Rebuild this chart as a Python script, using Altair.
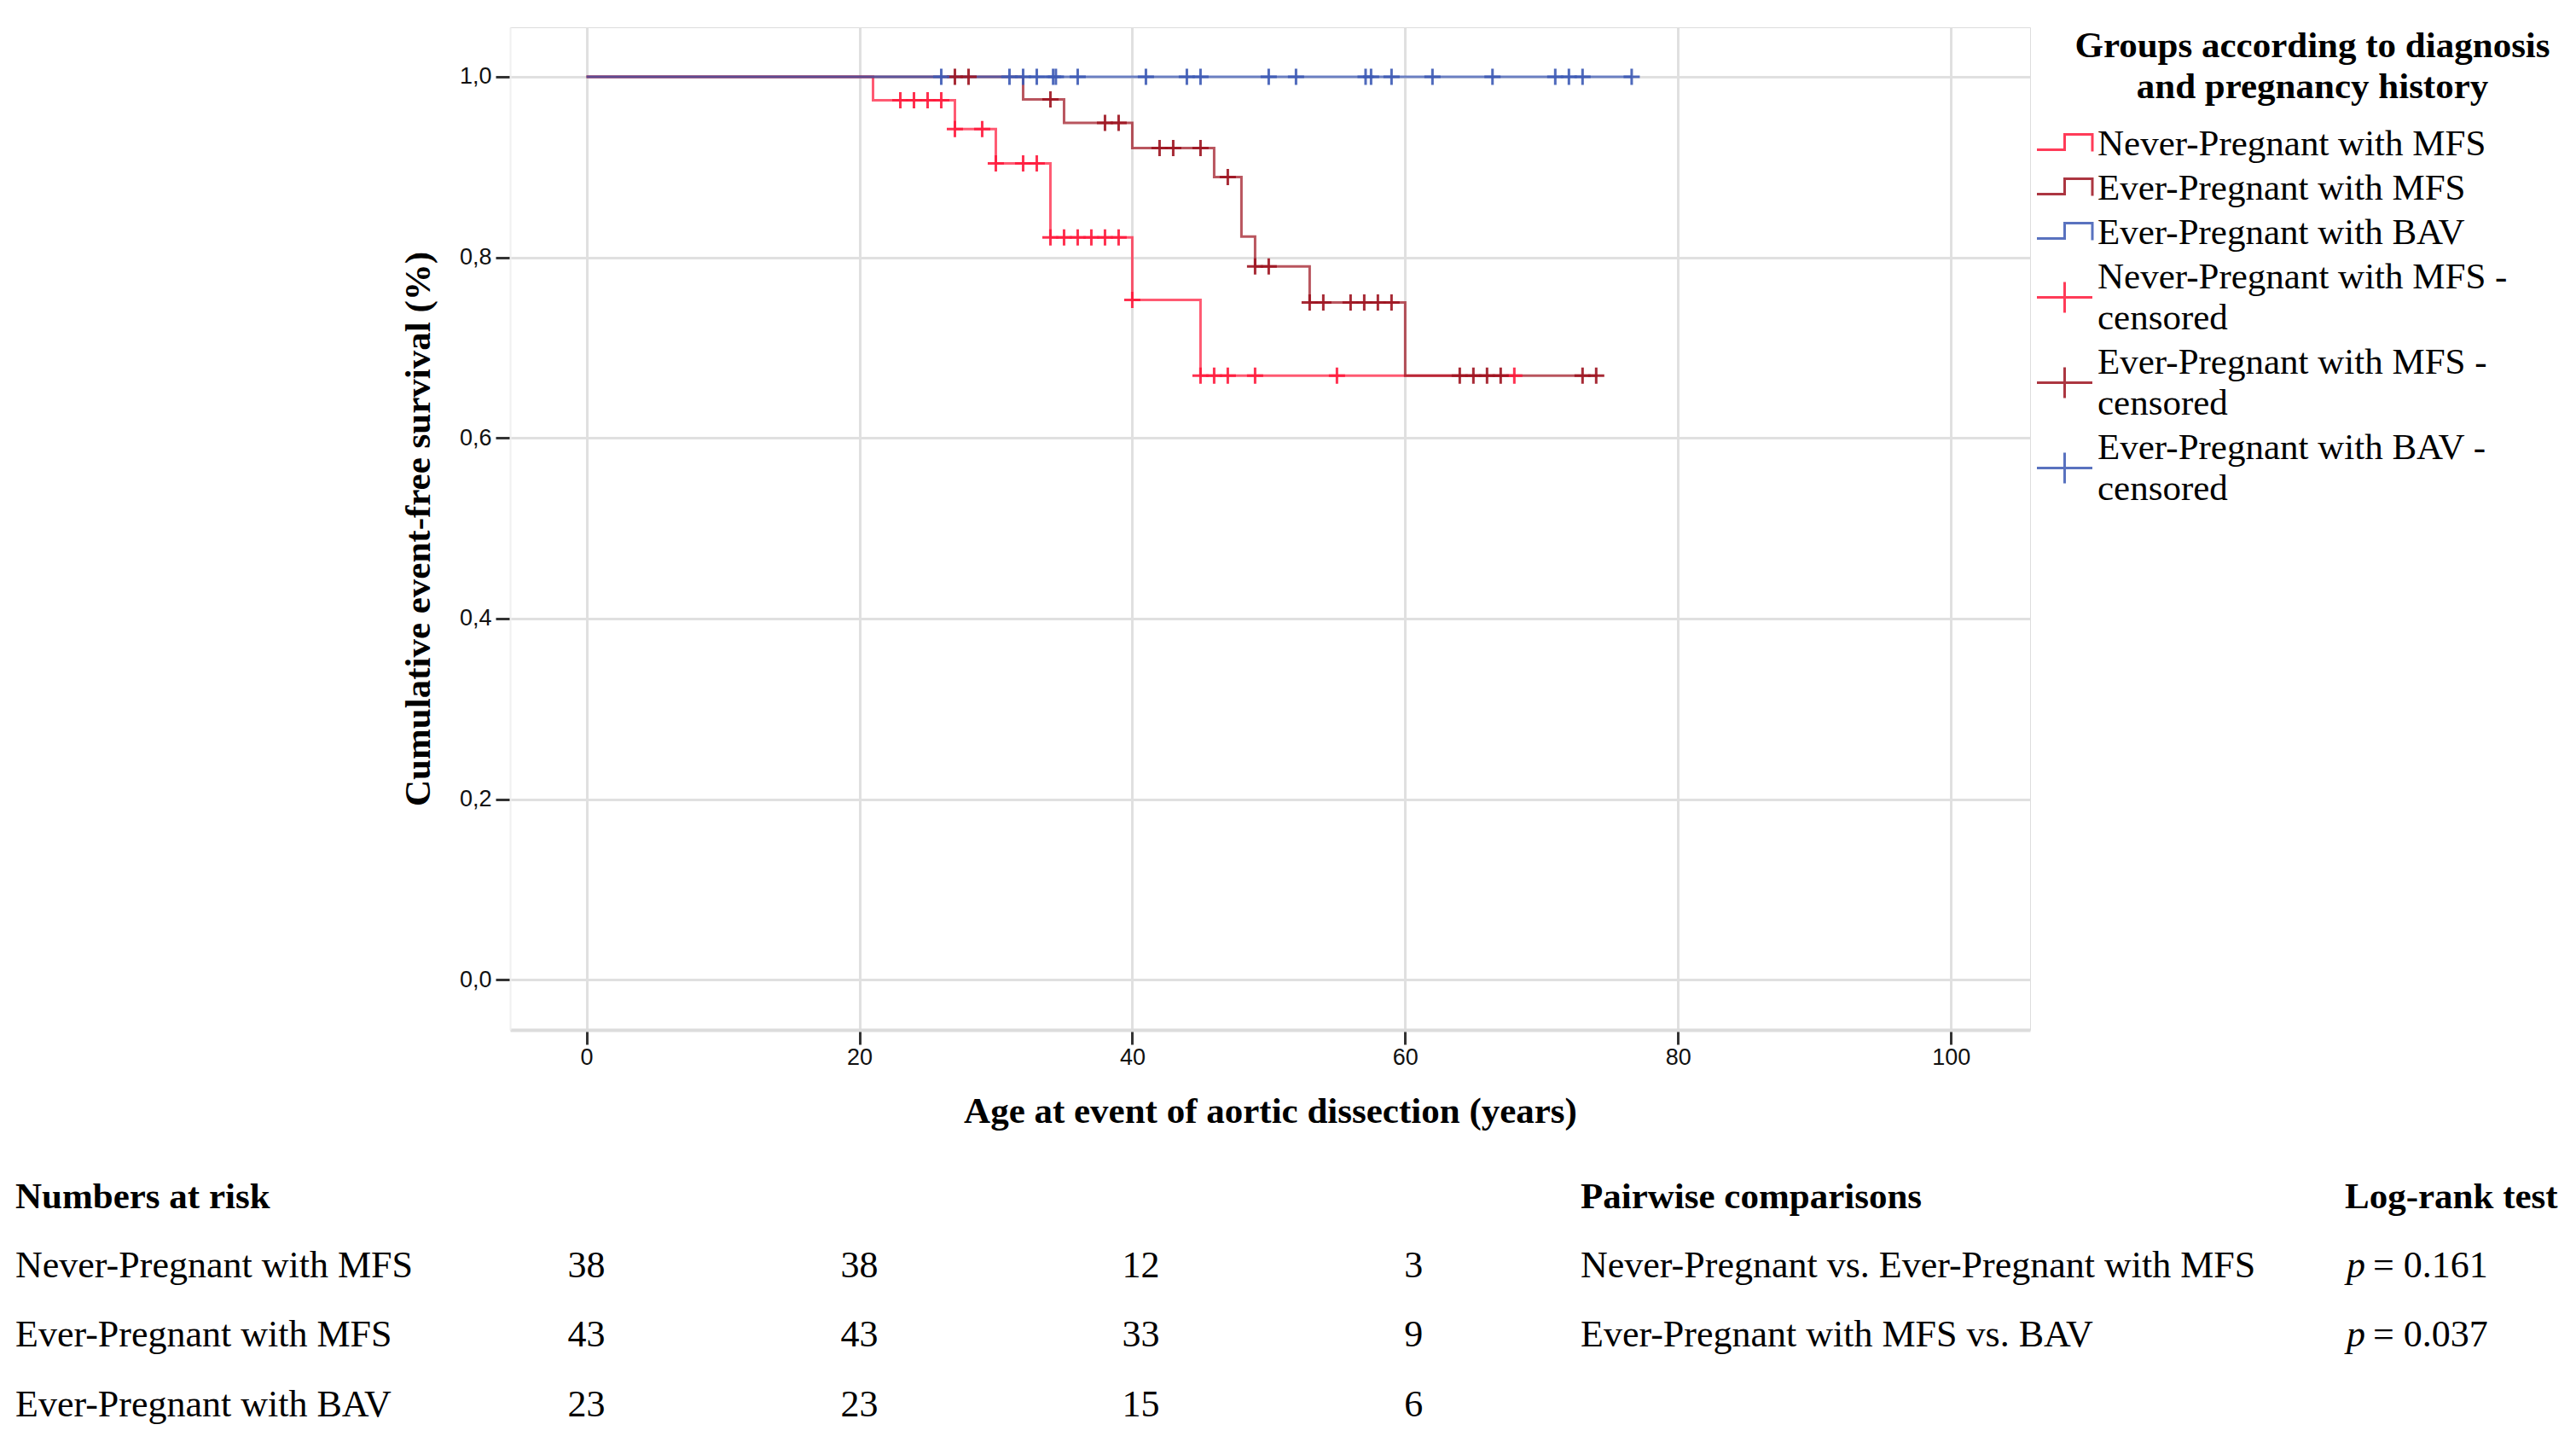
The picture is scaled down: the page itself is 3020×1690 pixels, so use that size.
import altair as alt
import pandas as pd

# ---------------- data ----------------
groups = ["Never-Pregnant with MFS", "Ever-Pregnant with MFS", "Ever-Pregnant with BAV"]
group_colors = ["#ff1a3c", "#9e1420", "#3d5ab5"]

# Kaplan-Meier steps: time of each drop and the survival after it (last = end of follow-up)
never_times = [0, 21, 27, 30, 34, 40, 45, 68]
never_surv = [1.0, 0.974, 0.942, 0.904, 0.822, 0.753, 0.669, 0.669]
ever_times = [0, 32, 35, 40, 46, 48, 49, 53, 60, 74.1]
ever_surv = [1.0, 0.975, 0.949, 0.921, 0.889, 0.823, 0.790, 0.750, 0.669, 0.669]
bav_times = [0, 76.6]
bav_surv = [1.0, 1.0]

# censored observations (ages)
never_censored = [23, 24, 25, 26, 27, 29, 30, 32, 33, 34, 35, 36, 37, 38, 39, 40,
                  45, 46, 47, 49, 55, 68]
ever_censored = [27, 28, 34, 38, 39, 42, 43, 45, 47, 49, 50, 53, 54, 56, 57, 58, 59,
                 64, 65, 66, 67, 73, 74]
bav_censored = [26, 31, 32, 33, 34.2, 34.4, 36, 41, 44, 45, 50, 52, 57.1, 57.5, 59,
                62, 66.4, 71, 72, 73, 76.6]

# numbers at risk
risk_times = [0, 20, 40, 60]
risk_never = [38, 38, 12, 3]
risk_ever = [43, 43, 33, 9]
risk_bav = [23, 23, 15, 6]

# pairwise comparisons
comparisons = ["Never-Pregnant vs. Ever-Pregnant with MFS", "Ever-Pregnant with MFS vs. BAV"]
p_values = ["= 0.161", "= 0.037"]

legend_title = "Groups according to diagnosis\nand pregnancy history"
x_ticks = [0, 20, 40, 60, 80, 100]
y_ticks = [0.0, 0.2, 0.4, 0.6, 0.8, 1.0]

# ---------------- tables for the library ----------------
curve_sets = [(never_times, never_surv, never_censored),
              (ever_times, ever_surv, ever_censored),
              (bav_times, bav_surv, bav_censored)]


def level_at(times, surv, t):
    lvl = surv[0]
    for tt, s in zip(times, surv):
        if tt <= t:
            lvl = s
    return lvl


line_rows, cens_rows = [], []
for g, (ts, ss, cs) in zip(groups, curve_sets):
    for t, s in zip(ts, ss):
        line_rows.append({"group": g, "time": t, "surv": s})
    for c in cs:
        cens_rows.append({"group": g, "time": c, "surv": level_at(ts, ss, c)})
lines_df = pd.DataFrame(line_rows)
cens_df = pd.DataFrame(cens_rows)

entries = groups + [g + " - censored" for g in groups]
entry_colors = group_colors + group_colors
LABEL_LH = 48
step_path = "M-1.625,0.35L0,0.35L0,-0.55L1.625,-0.55L1.625,0.45"
# cross drawn between the two lines of the wrapped label (symbol radius 20 px)
cross_path = "M-1.625,1.2L1.625,1.2M0,0.3L0,2.1"
legend_df = pd.DataFrame({"entry": entries, "time": [200] * 6, "surv": [0.5] * 6})

risk_df = pd.DataFrame(
    [{"group": g, "time": t, "n": n}
     for g, ns in zip(groups, [risk_never, risk_ever, risk_bav])
     for t, n in zip(risk_times, ns)]
)

# ---------------- layout ----------------
W, H = 1782, 1175
X_DOMAIN = [-5.6, 105.8]
Y_DOMAIN = [-0.0555, 1.0548]
SERIF = "Liberation Serif"
SANS = "Liberation Sans"
ROW_Y = [1465, 1546, 1628]
HEAD_Y = 1384

xs = alt.Scale(domain=X_DOMAIN, nice=False, zero=False)
ys = alt.Scale(domain=Y_DOMAIN, nice=False, zero=False)

x_axis = alt.Axis(
    values=x_ticks, title="Age at event of aortic dissection (years)",
    grid=True, gridColor="#e0e0e0", gridWidth=3,
    domainColor="#dcdcdc", domainWidth=4,
    tickColor="#333333", tickWidth=3, tickSize=17,
    labelFont=SANS, labelFontSize=27, labelColor="#111111", labelPadding=2,
    titleFont=SERIF, titleFontSize=43, titleFontWeight="bold", titleColor="black",
    titleX=W / 2, titleY=108, titleBaseline="alphabetic", titleAlign="center",
)
y_axis = alt.Axis(
    values=y_ticks, labelExpr="replace(format(datum.value, '.1f'), '.', ',')",
    title="Cumulative event-free survival (%)",
    grid=True, gridColor="#e0e0e0", gridWidth=3,
    domainColor="#f0f0f0", domainWidth=2,
    tickColor="#333333", tickWidth=3, tickSize=17,
    labelFont=SANS, labelFontSize=27, labelColor="#111111", labelPadding=5,
    titleFont=SERIF, titleFontSize=43, titleFontWeight="bold", titleColor="black",
    titleAngle=270, titleX=-95, titleY=H / 2, titleBaseline="alphabetic", titleAlign="center",
)

grp_color = alt.Color("group:N", scale=alt.Scale(domain=groups, range=group_colors), legend=None)

lines = alt.Chart(lines_df).mark_line(interpolate="step-after", strokeWidth=3, opacity=0.72).encode(
    x=alt.X("time:Q", scale=xs, axis=x_axis),
    y=alt.Y("surv:Q", scale=ys, axis=y_axis),
    color=grp_color,
    detail="group:N",
)

censors = alt.Chart(cens_df).mark_point(
    shape="M-1,0L1,0M0,-1L0,1", size=361, strokeWidth=3, filled=False, opacity=0.9
).encode(
    x=alt.X("time:Q", scale=xs),
    y=alt.Y("surv:Q", scale=ys),
    color=grp_color,
)

leg = alt.Legend(
    title=None,
    orient="none", legendX=1801, legendY=115, padding=0,
    labelFont=SERIF, labelFontSize=43, labelColor="black", labelLimit=2000,
    labelExpr="indexof(datum.label, ' - censored') > 0 ? [replace(datum.label, ' - censored', ' -'), 'censored'] : datum.label",
    labelOffset=17, symbolSize=1600, symbolStrokeWidth=3, symbolOpacity=0.85,
    rowPadding=8,
)
legend_layer = alt.Chart(legend_df).mark_point(filled=False, clip=True, strokeWidth=3).encode(
    x=alt.X("time:Q", scale=xs),
    y=alt.Y("surv:Q", scale=ys),
    color=alt.Color("entry:N", scale=alt.Scale(domain=entries, range=entry_colors), legend=leg),
    shape=alt.Shape("entry:N", scale=alt.Scale(domain=entries, range=[step_path] * 3 + [cross_path] * 3), legend=leg),
)

legend_title_layer = alt.Chart(pd.DataFrame({"t": [legend_title]})).mark_text(
    font=SERIF, fontSize=43, fontWeight="bold", color="black", align="center",
    baseline="alphabetic", lineBreak="\n", lineHeight=48,
).encode(x=alt.value(2113), y=alt.value(35), text="t:N")


def label(text, x, y, bold=False, italic=False, align="left"):
    return alt.Chart(pd.DataFrame({"t": [text]})).mark_text(
        font=SERIF, fontSize=43 if bold else 44, fontWeight="bold" if bold else "normal",
        fontStyle="italic" if italic else "normal", color="black", align=align,
        baseline="alphabetic",
    ).encode(x=alt.value(x), y=alt.value(y), text="t:N")


texts = [
    label("Numbers at risk", -580, HEAD_Y, bold=True),
    label("Pairwise comparisons", 1255, HEAD_Y, bold=True),
    label("Log-rank test", 2151, HEAD_Y, bold=True),
]
for g, yy in zip(groups, ROW_Y):
    texts.append(label(g, -580, yy))
for comp, pv, yy in zip(comparisons, p_values, ROW_Y):
    texts.append(label(comp, 1255, yy))
    texts.append(label("p", 2153, yy, italic=True))
    texts.append(label(pv, 2184, yy))

risk_layers = []
for g, yy in zip(groups, ROW_Y):
    for cond, dx in [("datum.time < 40", 0), ("datum.time >= 40", 10)]:
        risk_layers.append(
            alt.Chart(risk_df).transform_filter(alt.datum.group == g).transform_filter(cond)
            .mark_text(font=SERIF, fontSize=44, color="black", align="center", baseline="alphabetic", dx=dx)
            .encode(x=alt.X("time:Q", scale=xs), y=alt.value(yy), text="n:Q")
        )

chart = alt.layer(lines, censors, legend_layer, legend_title_layer, *risk_layers, *texts).resolve_scale(
    color="independent", shape="independent"
).properties(
    width=W, height=H,
    padding={"left": 590, "top": 24, "right": 632, "bottom": 475},
    autosize=alt.AutoSizeParams(type="none"),
).configure_view(stroke=None).configure(
    background="white",
    style={"guide-label": {"lineHeight": LABEL_LH}},
)

chart.save("out.html", embed_options={"renderer": "svg", "actions": False})
